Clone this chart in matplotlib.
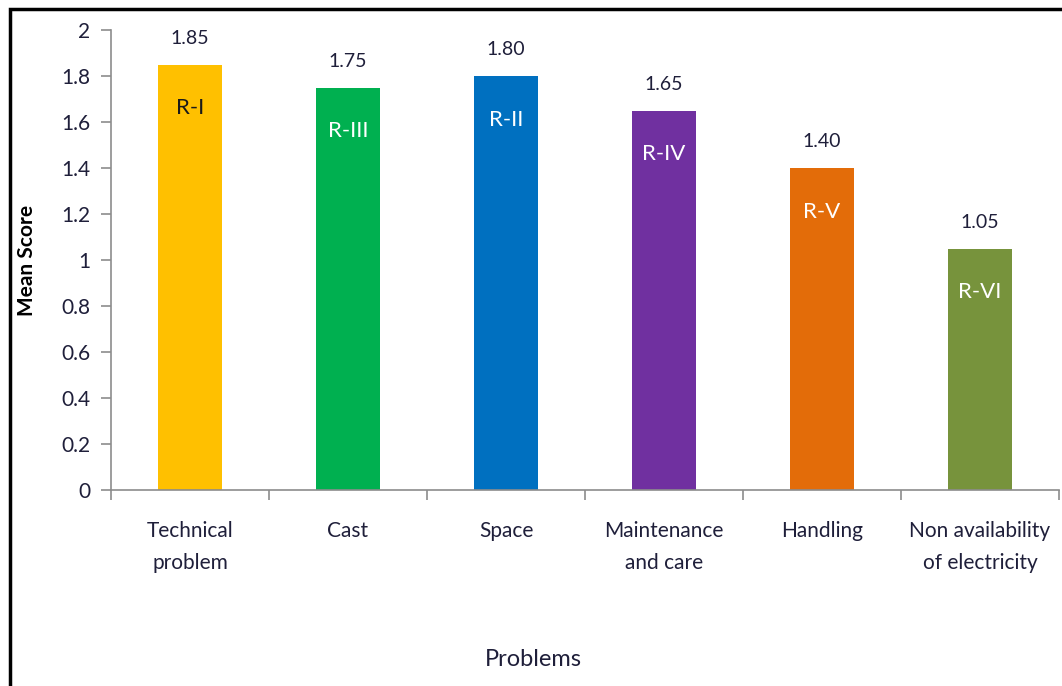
import matplotlib

matplotlib.use("Agg")
import matplotlib.pyplot as plt
from matplotlib.patches import Rectangle

categories = ["Technical\nproblem", "Cast", "Space", "Maintenance\nand care", "Handling", "Non availability\nof electricity"]
mean_scores = [1.85, 1.75, 1.80, 1.65, 1.40, 1.05]
ranks = ["R-I", "R-III", "R-II", "R-IV", "R-V", "R-VI"]
bar_colors = ["#FFC000", "#00B050", "#0070C0", "#7030A0", "#E36C09", "#77933C"]
rank_text_colors = ["#1a1a1a", "white", "white", "white", "white", "white"]
y_ticks = [0, 0.2, 0.4, 0.6, 0.8, 1, 1.2, 1.4, 1.6, 1.8, 2]

plt.rcParams["font.family"] = ["Lato", "DejaVu Sans"]
TXT = "#1f1f3a"
AX = "#8c8c8c"

fig = plt.figure(figsize=(10.62, 6.86), dpi=100)
ax = fig.add_axes([111 / 1062, 1 - 490 / 686, (1059 - 111) / 1062, (490 - 30) / 686])

xs = range(len(categories))
ax.bar(xs, mean_scores, width=0.4, color=bar_colors)

for x, v, r, c in zip(xs, mean_scores, ranks, rank_text_colors):
    ax.text(x, v + 0.115, f"{v:.2f}", ha="center", va="center", fontsize=14, color=TXT)
    ax.text(x, v - 0.19, r, ha="center", va="center", fontsize=16, color=c)

ax.set_xlim(-0.5, len(categories) - 0.5)
ax.set_ylim(0, 2)
ax.set_yticks(y_ticks, [f"{t:g}" for t in y_ticks])
ax.set_xticks([x - 0.5 for x in range(len(categories) + 1)], [""] * (len(categories) + 1))
ax.set_xticks(list(xs), categories, minor=True)
ax.tick_params(axis="x", which="minor", length=0, pad=22, labelsize=15, labelcolor=TXT)
ax.tick_params(axis="x", which="major", length=7, color=AX, width=1.2)
ax.tick_params(axis="y", length=7, color=AX, width=1.2, labelsize=15, labelcolor=TXT, pad=8)
for lbl in ax.get_xticklabels(minor=True):
    lbl.set_linespacing(1.75)

for s in ["top", "right"]:
    ax.spines[s].set_visible(False)
for s in ["left", "bottom"]:
    ax.spines[s].set_color(AX)
    ax.spines[s].set_linewidth(1.2)

fig.text(27 / 1062, 1 - 260 / 686, "Mean Score", rotation=90, ha="center", va="center",
         fontsize=15, fontweight="bold", color="black")
fig.text(533 / 1062, 1 - 660 / 686, "Problems", ha="center", va="center", fontsize=17, color=TXT)

# outer chart border, cut off at right and bottom as in the source picture
fig.add_artist(Rectangle((10 / 1062, -0.1), 1.2, 1 - 9 / 686 + 0.1, transform=fig.transFigure,
                         fill=False, edgecolor="black", linewidth=2.5))

fig.savefig("out.png", dpi=100)
